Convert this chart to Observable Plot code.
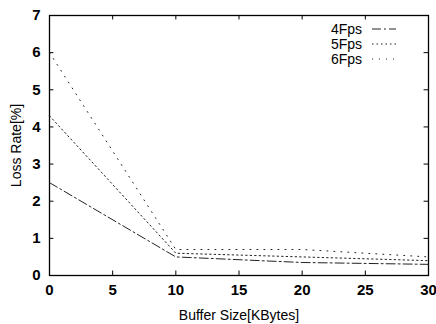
<!DOCTYPE html>
<html><head><meta charset="utf-8">
<script src="https://cdn.jsdelivr.net/npm/d3@7"></script>
<script src="https://cdn.jsdelivr.net/npm/@observablehq/plot@0.6"></script>
<style>
body{margin:0;background:#fff;}
svg{font-family:"Liberation Sans",Arial,sans-serif;}
</style>
</head><body><div id="chart"></div>
<script>
const bufferSize = [0, 10, 20, 30];
const fps4 = [2.5, 0.5, 0.35, 0.3];
const fps5 = [4.3, 0.6, 0.5, 0.4];
const fps6 = [6.0, 0.7, 0.7, 0.5];
const seriesNames = ["4Fps", "5Fps", "6Fps"];
const seriesValues = [fps4, fps5, fps6];
const dashes = ["9,3,2,3", "1.5,3", "1,6"];
const xTicks = [0, 5, 10, 15, 20, 25, 30];
const yTicks = [0, 1, 2, 3, 4, 5, 6, 7];

const rows = seriesNames.flatMap((s, i) => bufferSize.map((x, j) => ({series: s, x, y: seriesValues[i][j]})));

const marks = [
  Plot.frame({stroke: "#000", strokeWidth: 1.3}),
  Plot.ruleX(xTicks, {x: d => d, y1: 0, y2: 0.12, stroke: "#000"}),
  Plot.ruleX(xTicks, {x: d => d, y1: 7, y2: 6.88, stroke: "#000"}),
  Plot.ruleY(yTicks, {y: d => d, x1: 0, x2: 0.35, stroke: "#000"}),
  Plot.ruleY(yTicks, {y: d => d, x1: 30, x2: 29.65, stroke: "#000"}),
];
seriesNames.forEach((s, i) => {
  marks.push(Plot.line(rows.filter(r => r.series === s), {x: "x", y: "y", stroke: "#222", strokeWidth: 1, strokeDasharray: dashes[i]}));
});

const plot = Plot.plot({
  width: 436, height: 324,
  marginLeft: 49, marginRight: 8, marginTop: 15, marginBottom: 49,
  style: {fontSize: "15px", fontFamily: "Liberation Sans, Arial, sans-serif", color: "#000"},
  x: {domain: [0, 30], ticks: xTicks, tickFormat: d => String(d), tickSize: 0, tickPadding: 9, label: "Buffer Size[KBytes]", labelAnchor: "center", labelOffset: 44, labelArrow: "none"},
  y: {domain: [0, 7], ticks: yTicks, tickFormat: d => String(d), tickSize: 0, tickPadding: 9, label: "Loss Rate[%]", labelAnchor: "center", labelOffset: 38, labelArrow: "none"},
  marks
});
document.getElementById("chart").appendChild(plot);
d3.select(plot).selectAll("[aria-label='x-axis label'] text, [aria-label='y-axis label'] text").attr("font-size", 14);
d3.select(plot).selectAll("[aria-label='x-axis tick label'], [aria-label='y-axis tick label']").attr("font-weight", "bold");

// legend (gnuplot-style, top-right inside the frame)
const svg = d3.select(plot);
const lg = svg.append("g").attr("font-size", 14).attr("font-family", "Liberation Sans, Arial, sans-serif");
seriesNames.forEach((s, i) => {
  const yy = 29 + i * 15;
  lg.append("text").attr("x", 362).attr("y", yy).attr("dy", "0.35em").attr("text-anchor", "end").text(s);
  lg.append("line").attr("x1", 372).attr("x2", 396).attr("y1", yy).attr("y2", yy)
    .attr("stroke", "#222").attr("stroke-dasharray", dashes[i]);
});
</script></body></html>
